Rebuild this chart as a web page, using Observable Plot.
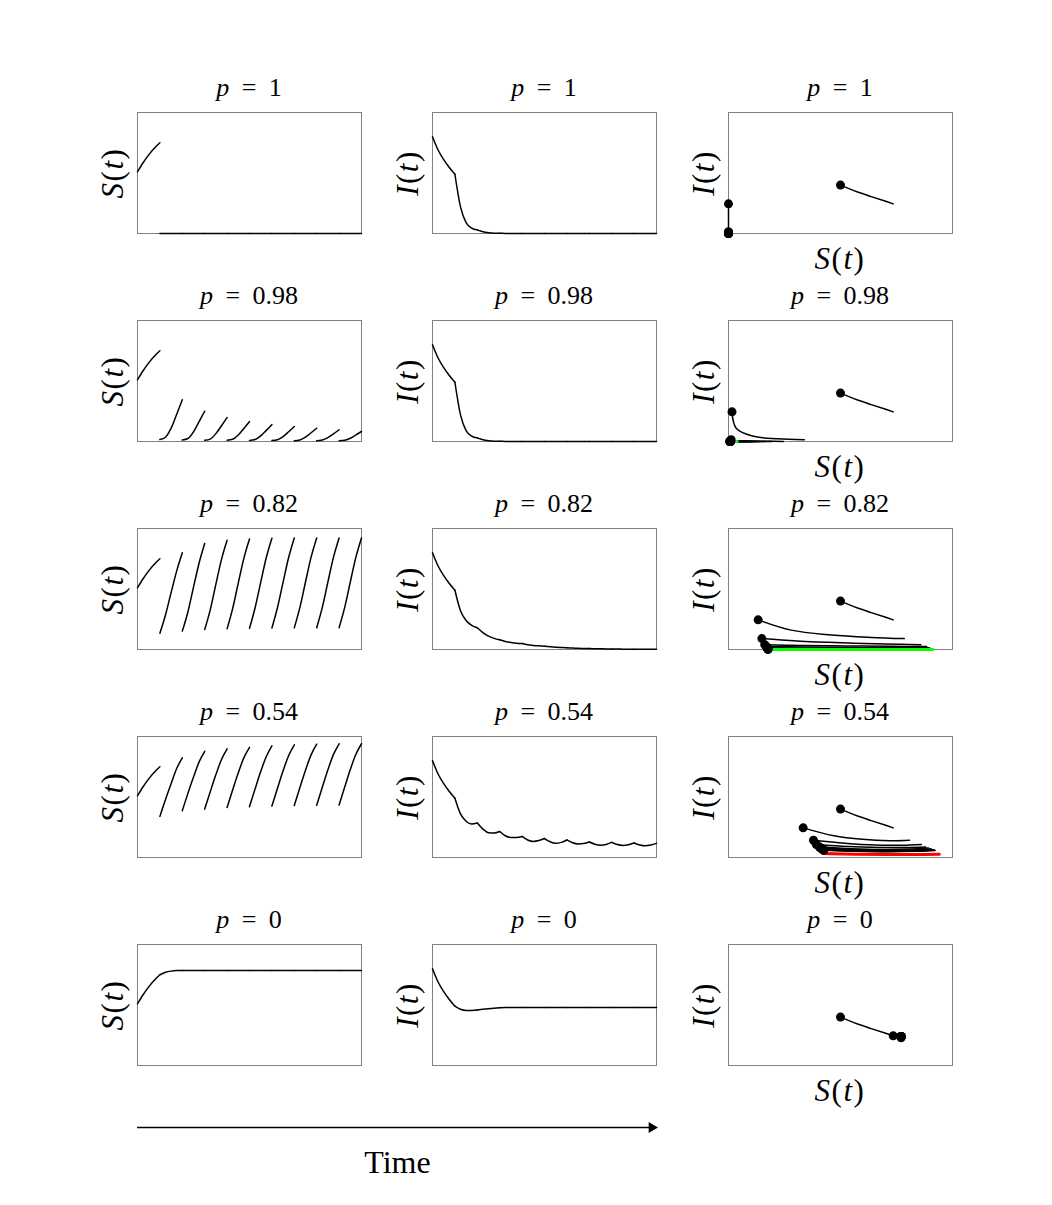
<!DOCTYPE html>
<html>
<head>
<meta charset="utf-8">
<script src="https://cdn.jsdelivr.net/npm/d3@7"></script>
<script src="https://cdn.jsdelivr.net/npm/@observablehq/plot@0.6"></script>
<style>
  body { margin: 0; background: #fff; }
  #chart { position: relative; width: 1052px; height: 1205px; background: #fff; color: #000;
           font-family: "Liberation Serif", "DejaVu Serif", serif; }
  .panel { position: absolute; }
  .title { position: absolute; text-align: center; font-size: 26px; line-height: 1; word-spacing: 6px; white-space: nowrap; }
  .axlab { position: absolute; font-size: 31px; line-height: 1; letter-spacing: 1.5px; white-space: nowrap; }
</style>
</head>
<body>
<div id="chart"></div>
<script>
// ---------------- data ----------------
const pLabels = ["1", "0.98", "0.82", "0.54", "0"];
const segStarts = [0, 10, 20, 30, 40, 50, 60, 70, 80, 90];   // pulse times
const stepOffsets = [0, 2.5, 5, 7.5, 10];                    // samples inside one pulse period

// first period (before any pulse) is shared by every p
const S_first = [0.51, 0.585, 0.65, 0.705, 0.75];
const I_first = [0.80, 0.69, 0.61, 0.545, 0.49];

// p = 1
const S_p100 = [S_first,
  [0, 0, 0, 0, 0], [0, 0, 0, 0, 0], [0, 0, 0, 0, 0], [0, 0, 0, 0, 0], [0, 0, 0, 0, 0],
  [0, 0, 0, 0, 0], [0, 0, 0, 0, 0], [0, 0, 0, 0, 0], [0, 0, 0, 0, 0]];
const I_p100 = [I_first,
  [0.49, 0.22, 0.09, 0.045, 0.03],
  [0.03, 0.015, 0.007, 0.003, 0.0015],
  [0.0015, 0.0008, 0.0004, 0.0002, 0.0001],
  [0.0001, 0, 0, 0, 0], [0, 0, 0, 0, 0], [0, 0, 0, 0, 0],
  [0, 0, 0, 0, 0], [0, 0, 0, 0, 0], [0, 0, 0, 0, 0]];

// p = 0.98
const S_p098 = [S_first,
  [0.016, 0.035, 0.11, 0.225, 0.345],
  [0.012, 0.025, 0.08, 0.165, 0.25],
  [0.010, 0.020, 0.065, 0.13, 0.198],
  [0.010, 0.018, 0.054, 0.108, 0.165],
  [0.008, 0.016, 0.046, 0.092, 0.14],
  [0.008, 0.014, 0.04, 0.081, 0.124],
  [0.007, 0.013, 0.036, 0.072, 0.11],
  [0.006, 0.012, 0.032, 0.063, 0.097],
  [0.006, 0.011, 0.027, 0.054, 0.083]];
const I_p098 = [I_first,
  [0.49, 0.22, 0.09, 0.045, 0.03],
  [0.03, 0.015, 0.007, 0.003, 0.0015],
  [0.0015, 0.0008, 0.0004, 0.0002, 0.0001],
  [0.0001, 0, 0, 0, 0], [0, 0, 0, 0, 0], [0, 0, 0, 0, 0],
  [0, 0, 0, 0, 0], [0, 0, 0, 0, 0], [0, 0, 0, 0, 0]];

// p = 0.82
const S_p082 = [S_first,
  [0.135, 0.285, 0.47, 0.65, 0.80],
  [0.152, 0.31, 0.515, 0.715, 0.876],
  [0.165, 0.33, 0.54, 0.745, 0.903],
  [0.172, 0.34, 0.55, 0.755, 0.914],
  [0.176, 0.345, 0.555, 0.76, 0.92],
  [0.178, 0.347, 0.557, 0.762, 0.922],
  [0.179, 0.348, 0.558, 0.763, 0.922],
  [0.18, 0.348, 0.558, 0.763, 0.922],
  [0.18, 0.348, 0.558, 0.763, 0.922]];
const I_p082 = [I_first,
  [0.49, 0.32, 0.24, 0.2, 0.18],
  [0.18, 0.14, 0.11, 0.092, 0.08],
  [0.08, 0.066, 0.058, 0.052, 0.05],
  [0.05, 0.04, 0.034, 0.03, 0.027],
  [0.027, 0.022, 0.018, 0.016, 0.015],
  [0.015, 0.012, 0.01, 0.009, 0.008],
  [0.008, 0.0065, 0.0055, 0.005, 0.0045],
  [0.0045, 0.0037, 0.003, 0.0027, 0.0025],
  [0.0025, 0.002, 0.0017, 0.0015, 0.0014]];

// p = 0.54
const S_p054 = [S_first,
  [0.34, 0.48, 0.61, 0.735, 0.824],
  [0.387, 0.53, 0.665, 0.79, 0.878],
  [0.40, 0.545, 0.685, 0.81, 0.898],
  [0.414, 0.56, 0.70, 0.825, 0.911],
  [0.42, 0.567, 0.71, 0.835, 0.923],
  [0.425, 0.573, 0.717, 0.843, 0.931],
  [0.43, 0.578, 0.722, 0.848, 0.936],
  [0.432, 0.58, 0.725, 0.852, 0.94],
  [0.434, 0.582, 0.727, 0.853, 0.94]];
const I_p054 = [I_first,
  [0.49, 0.36, 0.30, 0.277, 0.285],
  [0.285, 0.235, 0.205, 0.203, 0.215],
  [0.215, 0.18, 0.166, 0.165, 0.174],
  [0.174, 0.145, 0.133, 0.14, 0.157],
  [0.157, 0.13, 0.117, 0.125, 0.145],
  [0.145, 0.122, 0.112, 0.115, 0.128],
  [0.128, 0.11, 0.102, 0.108, 0.125],
  [0.125, 0.107, 0.10, 0.106, 0.12],
  [0.12, 0.104, 0.097, 0.103, 0.117]];

// p = 0
const S_p000 = [S_first,
  [0.75, 0.77, 0.78, 0.785, 0.786],
  [0.786, 0.786, 0.786, 0.786, 0.786], [0.786, 0.786, 0.786, 0.786, 0.786],
  [0.786, 0.786, 0.786, 0.786, 0.786], [0.786, 0.786, 0.786, 0.786, 0.786],
  [0.786, 0.786, 0.786, 0.786, 0.786], [0.786, 0.786, 0.786, 0.786, 0.786],
  [0.786, 0.786, 0.786, 0.786, 0.786], [0.786, 0.786, 0.786, 0.786, 0.786]];
const I_p000 = [I_first,
  [0.49, 0.465, 0.455, 0.454, 0.458],
  [0.458, 0.465, 0.47, 0.474, 0.477],
  [0.477, 0.479, 0.48, 0.48, 0.48],
  [0.48, 0.48, 0.48, 0.48, 0.48], [0.48, 0.48, 0.48, 0.48, 0.48],
  [0.48, 0.48, 0.48, 0.48, 0.48], [0.48, 0.48, 0.48, 0.48, 0.48],
  [0.48, 0.48, 0.48, 0.48, 0.48], [0.48, 0.48, 0.48, 0.48, 0.48]];

// periodic orbits drawn in colour in the phase plane
const orbitS_p098 = [0.006, 0.012, 0.02, 0.03, 0.04];
const orbitI_p098 = [0, 0, 0, 0, 0];
const orbitS_p082 = [0.17, 0.36, 0.555, 0.75, 0.93];
const orbitI_p082 = [0, 0, 0, 0, 0];
const orbitS_p054 = [0.43, 0.58, 0.72, 0.85, 0.96];
const orbitI_p054 = [0.065, 0.055, 0.05, 0.05, 0.055];
const orbitColors = ["#00ff00", "#ff0000"];

// ---------------- build ----------------
const rows = [
  {p: pLabels[0], S: S_p100, I: I_p100, orbit: null},
  {p: pLabels[1], S: S_p098, I: I_p098, orbit: {S: orbitS_p098, I: orbitI_p098, color: orbitColors[0]}},
  {p: pLabels[2], S: S_p082, I: I_p082, orbit: {S: orbitS_p082, I: orbitI_p082, color: orbitColors[0]}},
  {p: pLabels[3], S: S_p054, I: I_p054, orbit: {S: orbitS_p054, I: orbitI_p054, color: orbitColors[1]}},
  {p: pLabels[4], S: S_p000, I: I_p000, orbit: null}
];

function tidy(Sarr, Iarr) {
  const out = [];
  Sarr.forEach((seg, k) => seg.forEach((s, j) =>
    out.push({seg: k, t: segStarts[k] + stepOffsets[j], S: s, I: Iarr[k][j], first: j === 0})));
  return out;
}

const chart = document.getElementById("chart");
const W = 224, H = 121, M = 10;
const colLeft = [137, 432, 728];
const rowTop = [112, 320, 528, 736, 944];
const frameStroke = "#808080";

function place(node, left, top) {
  const wrap = document.createElement("div");
  wrap.className = "panel";
  wrap.style.left = left + "px";
  wrap.style.top = top + "px";
  wrap.appendChild(node);
  chart.appendChild(wrap);
}
function addText(cls, html, cx, cy, rotate) {
  const d = document.createElement("div");
  d.className = cls;
  d.innerHTML = html;
  d.style.left = cx + "px";
  d.style.top = cy + "px";
  d.style.transform = "translate(-50%, -50%)" + (rotate ? " rotate(-90deg)" : "");
  chart.appendChild(d);
}

const base = {
  width: W + 2 * M, height: H + 2 * M, margin: M,
  style: {background: "transparent", overflow: "visible"}
};

rows.forEach((row, r) => {
  const data = tidy(row.S, row.I);
  const starts = data.filter(d => d.first);
  const top = rowTop[r];

  // S(t)
  place(Plot.plot({
    ...base,
    x: {domain: [0, 100], axis: null},
    y: {domain: [0, 1], axis: null},
    marks: [
      Plot.frame({stroke: frameStroke}),
      Plot.line(data, {x: "t", y: "S", z: "seg", curve: "monotone-x", stroke: "black", strokeWidth: 1.5})
    ]
  }), colLeft[0] - M, top - M);

  // I(t)
  place(Plot.plot({
    ...base,
    x: {domain: [0, 100], axis: null},
    y: {domain: [0, 1], axis: null},
    marks: [
      Plot.frame({stroke: frameStroke}),
      Plot.line(data, {x: "t", y: "I", z: "seg", curve: "monotone-x", stroke: "black", strokeWidth: 1.5})
    ]
  }), colLeft[1] - M, top - M);

  // phase plane
  const marks = [
    Plot.frame({stroke: frameStroke}),
    Plot.line(data, {x: "S", y: "I", z: "seg", curve: "catmull-rom", stroke: "black", strokeWidth: 1.5})
  ];
  if (row.orbit) {
    const od = row.orbit.S.map((s, i) => ({S: s, I: row.orbit.I[i]}));
    marks.push(Plot.line(od, {x: "S", y: "I", curve: "catmull-rom", stroke: row.orbit.color, strokeWidth: 3}));
  }
  marks.push(Plot.dot(starts, {x: "S", y: "I", r: 4.5, fill: "black", stroke: "none"}));
  place(Plot.plot({
    ...base,
    x: {domain: [0, 1.02], axis: null},
    y: {domain: [0, 2], axis: null},
    marks
  }), colLeft[2] - M, top - M);

  // texts
  colLeft.forEach((left) => {
    addText("title", `<i>p</i> = ${row.p}`, left + W / 2, top - 24, false);
  });
  addText("axlab", `<i>S</i>(<i>t</i>)`, colLeft[0] - 25, top + H / 2, true);
  addText("axlab", `<i>I</i>(<i>t</i>)`, colLeft[1] - 25, top + H / 2, true);
  addText("axlab", `<i>I</i>(<i>t</i>)`, colLeft[2] - 25, top + H / 2, true);
  addText("axlab", `<i>S</i>(<i>t</i>)`, colLeft[2] + W / 2, top + H + 25, false);
});

// time arrow under the first two columns
const timeSpan = [0, 100];
place(Plot.plot({
  width: 1052, height: 80,
  marginLeft: colLeft[0], marginRight: 1052 - (colLeft[1] + W + 1), marginTop: 0, marginBottom: 0,
  style: {background: "transparent", overflow: "visible"},
  x: {domain: timeSpan, axis: null},
  y: {domain: [0, 1], range: [32, 67], axis: null},
  marks: [
    Plot.ruleY([0], {x1: timeSpan[0], x2: 98.5, stroke: "black", strokeWidth: 1.5}),
    Plot.dot([0], {x: () => 98.9, y: 0, symbol: "triangle", r: 4, rotate: 90, fill: "black", stroke: "none"}),
    Plot.text(["Time"], {x: () => 50, y: 1, text: d => d, fontSize: 32, fontFamily: "Liberation Serif", fill: "black"})
  ]
}), 0, 1095);
</script>
</body>
</html>
